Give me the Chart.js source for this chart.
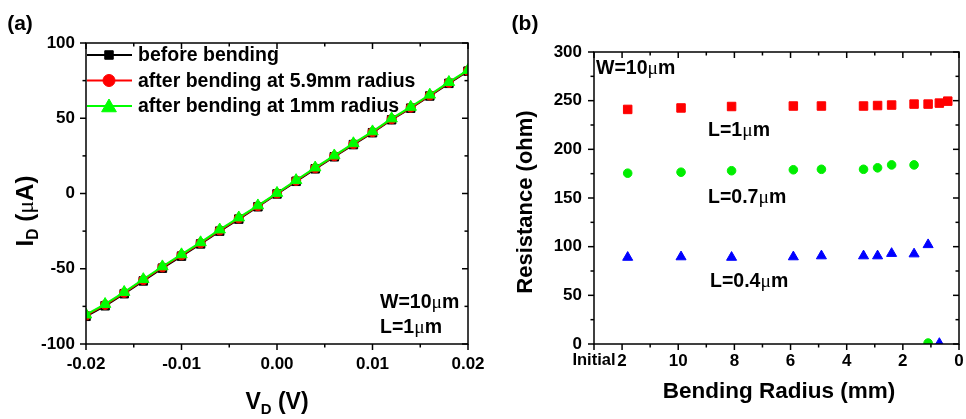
<!DOCTYPE html>
<html><head><meta charset="utf-8">
<script src="https://cdn.jsdelivr.net/npm/chart.js@4.4.1/dist/chart.umd.min.js"></script>
<style>
html,body{margin:0;padding:0;background:#fff;width:966px;height:419px;overflow:hidden;}
#wrap{position:relative;width:966px;height:419px;}
canvas{position:absolute;top:0;}
.t{position:absolute;font-family:'Liberation Sans',Arial,sans-serif;font-weight:bold;color:#000;white-space:nowrap;line-height:1;}
.c{transform:translate(-50%,-50%);}
.l{transform:translate(0,-50%);}
.r{transform:translate(-50%,-50%) rotate(-90deg);}
.mu{font-family:'Liberation Serif',serif;font-weight:normal;}
.sub{font-size:65%;position:relative;top:0.35em;}
</style></head>
<body><div id="wrap">
<canvas id="ca" width="495" height="419" style="left:0;width:495px;height:419px"></canvas>
<canvas id="cb" width="471" height="419" style="left:495px;width:471px;height:419px"></canvas>

<div class="t c" style="left:20px;top:22px;font-size:21px">(a)</div>
<div class="t c" style="left:525px;top:22px;font-size:21px">(b)</div>

<div class="t r" style="left:25px;top:211px;font-size:24px">I<span class="sub">D</span> (<span class="mu">μ</span>A)</div>
<div class="t c" style="left:277px;top:401px;font-size:23px">V<span class="sub">D</span> (V)</div>
<div class="t l" style="left:380px;top:302px;font-size:19.5px">W=10<span class="mu">μ</span>m</div>
<div class="t l" style="left:380px;top:327px;font-size:19.5px">L=1<span class="mu">μ</span>m</div>

<div class="t r" style="left:525px;top:202px;font-size:22px">Resistance (ohm)</div>
<div class="t c" style="left:779px;top:391px;font-size:22.5px">Bending Radius (mm)</div>
<div class="t l" style="left:596px;top:68px;font-size:19.5px">W=10<span class="mu">μ</span>m</div>
<div class="t l" style="left:708px;top:130px;font-size:19.5px">L=1<span class="mu">μ</span>m</div>
<div class="t l" style="left:708px;top:197px;font-size:19.5px">L=0.7<span class="mu">μ</span>m</div>
<div class="t l" style="left:710px;top:281px;font-size:19.5px">L=0.4<span class="mu">μ</span>m</div>
</div>
<script>
// ---------- Panel (a): I_D vs V_D ----------
const vd = [-0.02,-0.018,-0.016,-0.014,-0.012,-0.01,-0.008,-0.006,-0.004,-0.002,0,0.002,0.004,0.006,0.008,0.01,0.012,0.014,0.016,0.018,0.02];
const idBefore = [-81.6,-74.6,-66.6,-58.1,-49.6,-41.6,-33.5,-25,-17,-8.8,-0.3,8.1,16.4,24.4,32.5,40.4,49,56.7,64.8,73.2,81.3];
const idAfter59 = [-81,-74,-66,-57.5,-49,-41,-33,-24.5,-16.5,-8.4,0,8.5,16.8,24.8,32.9,40.8,49.4,57.1,65.2,73.6,81.6];
const idAfter1 = [-80.5,-73.5,-65.5,-57,-48.5,-40.5,-32.5,-24,-16,-8,0.3,8.8,17.2,25.2,33.3,41.2,49.8,57.5,65.6,74,82];
const seriesNamesA = ['before bending','after bending at 5.9mm radius','after bending at 1mm radius'];

// ---------- Panel (b): Resistance vs bending radius ----------
const radiusL1 = [11.8,9.9,8.1,5.9,4.9,3.4,2.9,2.4,1.6,1.1,0.7,0.4];
const resL1 = [241,242.5,244,244.5,244.5,244.5,245,245.5,246.5,246.5,247.5,249.5];
const radiusL07 = [11.8,9.9,8.1,5.9,4.9,3.4,2.9,2.4,1.6,1.1];
const resL07 = [175.5,176.5,178,179,179.5,179.5,181,184,184,1];
const radiusL04 = [11.8,9.9,8.1,5.9,4.9,3.4,2.9,2.4,1.6,1.1,0.7];
const resL04 = [89,89.5,89,89.5,90.5,90.5,90.5,93,92.5,102,0.5];
const radiusTickLabels = {13:'Initial',12:'2',10:'10',8:'8',6:'6',4:'4',2:'2',0:'0'};

const FONT = "'Liberation Sans', Arial, sans-serif";
const tickFont = {family: FONT, weight: 'bold', size: 17};

function pts(xs, ys){ return xs.map((v,i)=>({x:v, y:ys[i]})); }

const frameTicks = {
  id: 'frameTicks',
  afterDraw(chart){
    const {ctx, chartArea:a} = chart;
    const x = chart.scales.x, y = chart.scales.y;
    ctx.save();
    ctx.strokeStyle = '#000';
    ctx.lineWidth = 1.5;
    const seg = (x1,y1,x2,y2)=>{ctx.beginPath();ctx.moveTo(x1,y1);ctx.lineTo(x2,y2);ctx.stroke();};
    x.ticks.forEach((t,i)=>{
      const p = x.getPixelForTick(i);
      const len = (t.label === '' ? 3.5 : 6);
      seg(p, a.bottom, p, a.bottom + len);
      seg(p, a.top, p, a.top + len);
    });
    y.ticks.forEach((t,i)=>{
      const p = y.getPixelForTick(i);
      const len = (t.label === '' ? 3.5 : 6);
      seg(a.left - len, p, a.left, p);
      seg(a.right - len, p, a.right, p);
    });
    ctx.strokeRect(a.left, a.top, a.right - a.left, a.bottom - a.top);
    ctx.restore();
  }
};

function drawMarker(ctx, style, r, x, y){
  if (Chart.helpers && Chart.helpers.drawPoint) {
    Chart.helpers.drawPoint(ctx, {pointStyle: style, radius: r, borderWidth: 1, rotation: 0}, x, y);
  }
}

const legendA = {
  id: 'legendA',
  afterDraw(chart){
    const {ctx, chartArea:a} = chart;
    const radii = [6, 6, 8.5];
    ctx.save();
    chart.data.datasets.forEach((ds,i)=>{
      const y = a.top + 12 + i*25.5;
      ctx.strokeStyle = ds.borderColor; ctx.lineWidth = 2;
      ctx.beginPath(); ctx.moveTo(a.left+1, y); ctx.lineTo(a.left+46, y); ctx.stroke();
      ctx.fillStyle = ds.pointBackgroundColor; ctx.strokeStyle = ds.pointBorderColor; ctx.lineWidth = 1;
      drawMarker(ctx, ds.pointStyle, radii[i], a.left+23, y + (ds.pointStyle === 'triangle' ? 1.5 : 0));
      ctx.fillStyle = '#000';
      ctx.font = "bold 19.5px " + FONT;
      ctx.textBaseline = 'middle'; ctx.textAlign = 'left';
      ctx.fillText(seriesNamesA[i], a.left+52, y+1);
    });
    ctx.restore();
  }
};

function fixW(w){ return function(s){ s.width = w; s.paddingTop = 0; s.paddingBottom = 0; }; }
function fixH(h){ return function(s){ s.height = h; s.paddingLeft = 0; s.paddingRight = 0; }; }

new Chart(document.getElementById('ca'), {
  type: 'line',
  data: {
    datasets: [
      {label: seriesNamesA[0], data: pts(vd, idBefore), borderColor:'#000000', backgroundColor:'#000000',
       pointBackgroundColor:'#000000', pointBorderColor:'#000000', pointStyle:'rect', pointRadius:6, borderWidth:2, pointBorderWidth:1, order:3, clip:0},
      {label: seriesNamesA[1], data: pts(vd, idAfter59), borderColor:'#ff0000', backgroundColor:'#ff0000',
       pointBackgroundColor:'#ff0000', pointBorderColor:'#ff0000', pointStyle:'circle', pointRadius:4.6, borderWidth:2, pointBorderWidth:1, order:2, clip:0},
      {label: seriesNamesA[2], data: pts(vd, idAfter1), borderColor:'#00ff00', backgroundColor:'#00ff00',
       pointBackgroundColor:'#00ff00', pointBorderColor:'#00ff00', pointStyle:'triangle', pointRadius:6.6, borderWidth:2, pointBorderWidth:1, order:1, clip:0}
    ]
  },
  options: {
    responsive:false, animation:false, devicePixelRatio:1,
    layout:{padding:{left:0, top:43, right:27, bottom:0}},
    plugins:{legend:{display:false}, tooltip:{enabled:false}},
    elements:{line:{tension:0}},
    scales:{
      x:{type:'linear', min:-0.02, max:0.02,
         grid:{display:false, drawTicks:false}, border:{display:false},
         ticks:{stepSize:0.005, autoSkip:false, maxRotation:0, padding:10, color:'#000', font:tickFont,
           callback:(v)=>{ const k = Math.round(v*1000); return (k % 10 === 0) ? (k/1000).toFixed(2) : ''; }},
         afterFit: fixH(75)},
      y:{type:'linear', min:-100, max:100,
         grid:{display:false, drawTicks:false}, border:{display:false},
         ticks:{stepSize:25, autoSkip:false, padding:11, color:'#000', font:tickFont,
           callback:(v)=> (Math.round(v) % 50 === 0 ? String(Math.round(v)) : '')},
         afterFit: fixW(86)}
    }
  },
  plugins:[frameTicks, legendA]
});

new Chart(document.getElementById('cb'), {
  type: 'scatter',
  data: {
    datasets: [
      {label:'L=1μm', data: pts(radiusL1, resL1), pointStyle:'rect', pointRadius:6, pointBorderWidth:1,
       backgroundColor:'#ff0000', borderColor:'#ff0000', clip:0},
      {label:'L=0.7μm', data: pts(radiusL07, resL07), pointStyle:'circle', pointRadius:4.3, pointBorderWidth:1,
       backgroundColor:'#00ee00', borderColor:'#00ee00', clip:0},
      {label:'L=0.4μm', data: pts(radiusL04, resL04), pointStyle:'triangle', pointRadius:5.8, pointBorderWidth:1,
       backgroundColor:'#0000ff', borderColor:'#0000ff', clip:0}
    ]
  },
  options: {
    responsive:false, animation:false, devicePixelRatio:1,
    layout:{padding:{left:0, top:52, right:3, bottom:0}},
    plugins:{legend:{display:false}, tooltip:{enabled:false}},
    scales:{
      x:{type:'linear', min:0, max:13, reverse:true,
         grid:{display:false, drawTicks:false}, border:{display:false},
         ticks:{stepSize:1, autoSkip:false, maxRotation:0, padding:7, color:'#000',
           font:(c)=> (c.tick && Math.round(c.tick.value) === 13 ? {family: FONT, weight:'bold', size:16.5} : tickFont),
           callback:(v)=> (radiusTickLabels[Math.round(v)] !== undefined ? radiusTickLabels[Math.round(v)] : '')},
         afterFit: fixH(75)},
      y:{type:'linear', min:0, max:300,
         grid:{display:false, drawTicks:false}, border:{display:false},
         ticks:{stepSize:25, autoSkip:false, padding:12, color:'#000', font:tickFont,
           callback:(v)=> (Math.round(v) % 50 === 0 ? String(Math.round(v)) : '')},
         afterFit: fixW(99)}
    }
  },
  plugins:[frameTicks]
});
</script>
</body></html>
